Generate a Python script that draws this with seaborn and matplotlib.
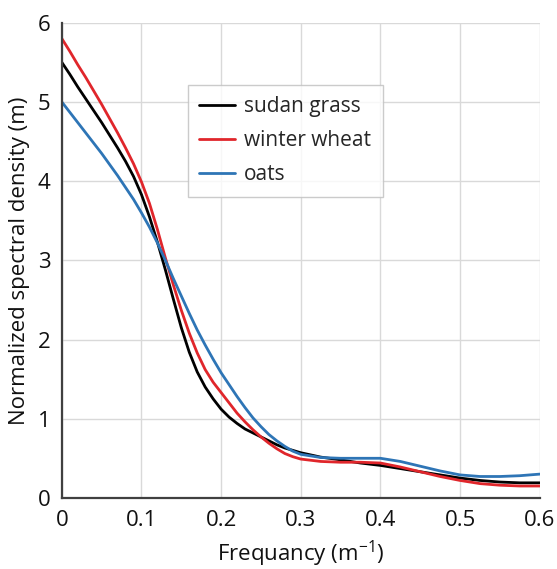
import numpy as np
import pandas as pd
import matplotlib
matplotlib.use("Agg")
import matplotlib.pyplot as plt
import seaborn as sns

# Frequency grid (1/m)
freq = [0.00, 0.01, 0.02, 0.03, 0.04, 0.05, 0.06, 0.07, 0.08, 0.09,
        0.10, 0.11, 0.12, 0.13, 0.14, 0.15, 0.16, 0.17, 0.18, 0.19,
        0.20, 0.21, 0.22, 0.23, 0.24, 0.25, 0.26, 0.27, 0.28, 0.29,
        0.30, 0.325, 0.35, 0.375, 0.40, 0.425, 0.45, 0.475, 0.50,
        0.525, 0.55, 0.575, 0.60]

# Normalized spectral density (m) per crop
sudan_grass = [5.50, 5.35, 5.19, 5.04, 4.89, 4.74, 4.58, 4.42, 4.25, 4.06,
               3.83, 3.55, 3.23, 2.88, 2.51, 2.15, 1.84, 1.59, 1.40, 1.25,
               1.12, 1.02, 0.94, 0.87, 0.82, 0.77, 0.72, 0.67, 0.63, 0.60,
               0.57, 0.515, 0.48, 0.44, 0.41, 0.37, 0.33, 0.29, 0.25,
               0.22, 0.20, 0.19, 0.19]
winter_wheat = [5.80, 5.64, 5.47, 5.31, 5.14, 4.97, 4.79, 4.61, 4.42, 4.22,
                3.99, 3.72, 3.39, 3.03, 2.69, 2.37, 2.08, 1.83, 1.62, 1.46,
                1.33, 1.20, 1.07, 0.96, 0.86, 0.77, 0.69, 0.62, 0.56, 0.52,
                0.49, 0.46, 0.45, 0.45, 0.44, 0.39, 0.33, 0.27, 0.22,
                0.18, 0.16, 0.15, 0.15]
oats = [5.00, 4.87, 4.74, 4.61, 4.48, 4.35, 4.21, 4.07, 3.92, 3.77,
        3.60, 3.42, 3.22, 3.00, 2.77, 2.55, 2.33, 2.12, 1.93, 1.75,
        1.58, 1.43, 1.28, 1.14, 1.01, 0.90, 0.80, 0.72, 0.65, 0.59,
        0.55, 0.51, 0.50, 0.50, 0.50, 0.46, 0.40, 0.34, 0.29,
        0.27, 0.27, 0.28, 0.30]

series_names = ["sudan grass", "winter wheat", "oats"]
series_colors = ["#000000", "#E0262B", "#2E75B6"]

x_ticks = [0, 0.1, 0.2, 0.3, 0.4, 0.5, 0.6]
x_tick_labels = ["0", "0.1", "0.2", "0.3", "0.4", "0.5", "0.6"]
y_ticks = [0, 1, 2, 3, 4, 5, 6]

df = pd.DataFrame({
    "freq": freq * 3,
    "density": sudan_grass + winter_wheat + oats,
    "crop": [series_names[0]] * len(freq)
            + [series_names[1]] * len(freq)
            + [series_names[2]] * len(freq),
})

sns.set_theme(style="white")
plt.rcParams["font.family"] = ["Open Sans", "DejaVu Sans"]
plt.rcParams["mathtext.fontset"] = "custom"
plt.rcParams["mathtext.rm"] = "Open Sans"

fig = plt.figure(figsize=(5.57, 5.69), dpi=100)
ax = fig.add_axes([0.111, 0.125, 0.858, 0.835])

sns.lineplot(data=df, x="freq", y="density", hue="crop",
             hue_order=series_names,
             palette=dict(zip(series_names, series_colors)),
             linewidth=2.0, ax=ax, sort=True)

ax.set_xlim(0, 0.6)
ax.set_ylim(0, 6)
ax.set_xticks(x_ticks)
ax.set_xticklabels(x_tick_labels)
ax.set_yticks(y_ticks)
ax.grid(True, color="#d9d9d9", linewidth=1.0)
ax.set_axisbelow(True)

for side in ("top", "right"):
    ax.spines[side].set_visible(False)
for side in ("left", "bottom"):
    ax.spines[side].set_color("#404040")
    ax.spines[side].set_linewidth(1.6)

ax.tick_params(axis="both", length=0, labelsize=16, colors="#111111")
ax.tick_params(axis="x", pad=9)
ax.tick_params(axis="y", pad=8)

ax.set_xlabel(r"Frequancy (m$^{\mathregular{-1}}$)", fontsize=16, labelpad=5,
              color="#111111")
ax.set_ylabel("Normalized spectral density (m)", fontsize=16, labelpad=6,
              color="#111111")

leg = ax.legend(loc="upper left", bbox_to_anchor=(0.264, 0.869),
                borderaxespad=0.0,
                fontsize=15, frameon=True, fancybox=False,
                edgecolor="#bfbfbf", handlelength=1.7, handletextpad=0.45,
                borderpad=0.55, labelspacing=0.62, title=None)
leg.get_frame().set_linewidth(1.0)
for line in leg.get_lines():
    line.set_linewidth(2.0)

fig.savefig("out.png", dpi=100)
